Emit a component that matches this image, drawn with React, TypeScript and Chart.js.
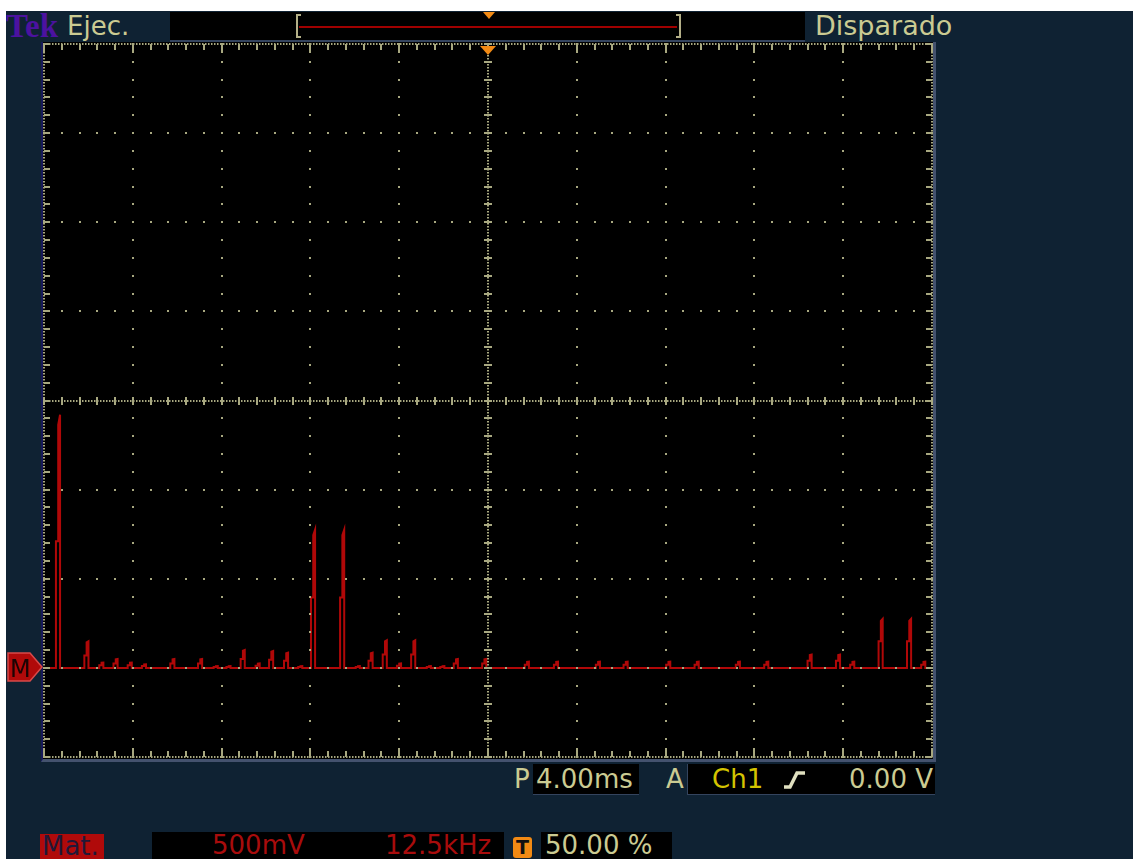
import React, { useEffect, useRef } from 'react';
import { Chart, registerables } from 'chart.js';

Chart.register(...registerables);

// ---- Data (Ch1 math FFT, 500 mV/div, 12.5 kHz/div) ----
const peakFreqKHz = [
  2.0, 6.0, 8.1, 10.1, 12.1, 14.1, 18.1, 22.0, 24.2, 26.0,
  28.0, 30.1, 32.0, 34.1, 36.1, 37.9, 42.0, 44.2, 46.0, 48.0,
  50.0, 52.0, 54.2, 56.1, 58.0, 62.0, 68.0, 72.1, 78.0, 81.9,
  87.9, 91.9, 97.7, 101.7, 107.8, 111.8, 113.8, 117.8, 121.8, 123.8,
];
const peakAmpV = [
  1.42, 0.15, 0.03, 0.05, 0.03, 0.02, 0.05, 0.05, 0.01, 0.01,
  0.1, 0.025, 0.095, 0.085, 0.01, 0.775, 0.775, 0.01, 0.085, 0.155,
  0.025, 0.155, 0.01, 0.01, 0.05, 0.05, 0.035, 0.035, 0.035, 0.035,
  0.035, 0.035, 0.035, 0.035, 0.075, 0.075, 0.035, 0.275, 0.275, 0.035,
];
const peakStepV = [
  0.71, 0.07, 0.015, 0.025, 0.015, 0.01, 0.025, 0.025, 0.005, 0.005,
  0.05, 0.012, 0.045, 0.04, 0.005, 0.395, 0.395, 0.005, 0.04, 0.075,
  0.012, 0.075, 0.005, 0.005, 0.025, 0.025, 0.018, 0.018, 0.018, 0.018,
  0.018, 0.018, 0.018, 0.018, 0.04, 0.04, 0.018, 0.15, 0.15, 0.018,
];

const X_MIN = 0;
const X_MAX = 125;
const X_DIV = 12.5; // kHz per division
const Y_MIN = -0.5;
const Y_MAX = 3.5;
const Y_DIV = 0.5; // V per division

const TRACE = '#b00808';
const GRID = 'rgb(168,168,128)';
const KHAKI = '#cbcb92';
const NAVY = '#0f2233';
const ORANGE = '#f28a14';

function buildTrace() {
  const pts: { x: number; y: number }[] = [{ x: X_MIN, y: 0 }];
  peakFreqKHz.forEach((f, i) => {
    const a = peakAmpV[i];
    const s = peakStepV[i];
    pts.push(
      { x: f - 0.32, y: 0 },
      { x: f - 0.32, y: s },
      { x: f, y: s },
      { x: f, y: a * 0.96 },
      { x: f + 0.26, y: a },
      { x: f + 0.26, y: 0 },
    );
  });
  pts.push({ x: X_MAX, y: 0 });
  return pts;
}

const graticule = {
  id: 'graticule',
  afterDatasetsDraw(chart: any) {
    const ctx = chart.ctx as CanvasRenderingContext2D;
    const xs = chart.scales.x;
    const ys = chart.scales.y;
    const L = xs.getPixelForValue(X_MIN);
    const R = xs.getPixelForValue(X_MAX);
    const T = ys.getPixelForValue(Y_MAX);
    const B = ys.getPixelForValue(Y_MIN);
    const nx = Math.round((X_MAX - X_MIN) / X_DIV);
    const ny = Math.round((Y_MAX - Y_MIN) / Y_DIV);
    const dx = (R - L) / nx;
    const dy = (B - T) / ny;
    const cx = L + (dx * nx) / 2;
    const cy = T + (dy * ny) / 2;
    ctx.save();
    ctx.fillStyle = GRID;
    const dot = (x: number, y: number, w = 2, h = 2) =>
      ctx.fillRect(Math.round(x - w / 2), Math.round(y - h / 2), w, h);

    // interior grid lines: a dot each 1/5 division
    for (let i = 1; i < nx; i++) {
      if (i * 2 === nx) continue;
      const x = L + i * dx;
      for (let k = 0; k <= ny * 5; k++) dot(x, T + (k * dy) / 5);
    }
    for (let j = 1; j < ny; j++) {
      if (j * 2 === ny) continue;
      const y = T + j * dy;
      for (let k = 0; k <= nx * 5; k++) dot(L + (k * dx) / 5, y);
    }
    // centre lines: dense dots with crosses every 1/5 division
    for (let y = T; y <= B; y += 3) dot(cx, y, 2, 1.5);
    for (let x = L; x <= R; x += 3) dot(x, cy, 1.5, 2);
    for (let k = 0; k <= ny * 5; k++) dot(cx, T + (k * dy) / 5, 8, 2);
    for (let k = 0; k <= nx * 5; k++) dot(L + (k * dx) / 5, cy, 2, 8);
    // border: dense dots with inward ticks
    for (let y = T; y <= B; y += 3) {
      dot(L, y, 2, 1.5);
      dot(R, y, 2, 1.5);
    }
    for (let x = L; x <= R; x += 3) {
      dot(x, T, 1.5, 2);
      dot(x, B, 1.5, 2);
    }
    for (let k = 0; k <= ny * 5; k++) {
      const y = T + (k * dy) / 5;
      ctx.fillRect(Math.round(L), Math.round(y - 1), 6, 2);
      ctx.fillRect(Math.round(R - 6), Math.round(y - 1), 6, 2);
    }
    for (let k = 0; k <= nx * 5; k++) {
      const x = L + (k * dx) / 5;
      const len = k % 5 === 0 ? 9 : 6;
      ctx.fillRect(Math.round(x - 1), Math.round(T), 2, len);
      ctx.fillRect(Math.round(x - 1), Math.round(B - len), 2, len);
    }
    // trigger position marker
    ctx.fillStyle = ORANGE;
    ctx.beginPath();
    ctx.moveTo(cx - 8, T + 2);
    ctx.lineTo(cx + 8, T + 2);
    ctx.lineTo(cx, T + 11);
    ctx.closePath();
    ctx.fill();
    ctx.restore();
  },
};

const abs = (l: number, t: number, w: number, h: number, extra: React.CSSProperties = {}): React.CSSProperties => ({
  position: 'absolute',
  left: l,
  top: t,
  width: w,
  height: h,
  ...extra,
});

const textRow = (size: number, h: number, color: string): React.CSSProperties => ({
  fontSize: size,
  lineHeight: `${h}px`,
  color,
  whiteSpace: 'nowrap',
});

export default function App() {
  const ref = useRef<HTMLCanvasElement>(null);

  useEffect(() => {
    const chart = new Chart(ref.current!, {
      type: 'line',
      data: {
        datasets: [
          {
            data: buildTrace(),
            borderColor: TRACE,
            borderWidth: 2,
            pointRadius: 0,
            tension: 0,
            fill: false,
            borderJoinStyle: 'miter',
          },
        ],
      },
      options: {
        animation: false,
        responsive: false,
        parsing: false,
        events: [],
        layout: { padding: 6 },
        plugins: { legend: { display: false }, tooltip: { enabled: false } },
        scales: {
          x: { type: 'linear', min: X_MIN, max: X_MAX, display: false },
          y: { type: 'linear', min: Y_MIN, max: Y_MAX, display: false },
        },
      },
      plugins: [graticule],
    } as any);
    return () => chart.destroy();
  }, []);

  return (
    <div style={{ position: 'relative', width: 1133, height: 859, background: '#fff', overflow: 'hidden', fontFamily: '"DejaVu Sans", sans-serif' }}>
      <style>{'body{margin:0;background:#fff}'}</style>
      <div style={abs(6, 11, 1127, 848, { background: NAVY })} />

      {/* top status bar */}
      <div style={abs(6, 11, 70, 30, { ...textRow(33, 30, '#4c12a0'), fontFamily: '"Liberation Serif", serif', fontWeight: 'bold' })}>Tek</div>
      <div style={abs(67, 11, 100, 30, textRow(26, 30, KHAKI))}>Ejec.</div>
      <div style={abs(170, 12, 635, 30, { background: '#000', borderBottom: '2px solid #34445e', boxSizing: 'border-box' })} />
      <div style={abs(296, 14, 5, 24, { borderLeft: '2px solid #b4b088', borderTop: '2px solid #b4b088', borderBottom: '2px solid #b4b088', boxSizing: 'border-box' })} />
      <div style={abs(676, 14, 5, 24, { borderRight: '2px solid #b4b088', borderTop: '2px solid #b4b088', borderBottom: '2px solid #b4b088', boxSizing: 'border-box' })} />
      <div style={abs(299, 26, 378, 2, { background: '#a00000' })} />
      <svg style={abs(483, 12, 12, 7)} width={12} height={7}>
        <polygon points="0,0 12,0 6,7" fill={ORANGE} />
      </svg>
      <div style={abs(815, 11, 200, 30, textRow(27, 30, KHAKI))}>Disparado</div>

      {/* graticule area */}
      <div style={abs(41, 42, 895, 720, { background: '#000', borderLeft: '2px solid #17195a', borderRight: '3px solid #44526e', borderBottom: '3px solid #44526e', boxSizing: 'border-box' })} />
      <canvas ref={ref} width={900} height={725} style={abs(38, 38, 900, 725)} />

      {/* math reference marker */}
      <svg style={abs(7, 652, 37, 31)} width={37} height={31}>
        <polygon points="1,1 23,1 35,15 23,29 1,29" fill="#b00a0a" stroke="#d84a4a" strokeWidth={1.5} />
        <text x={3} y={25} fontSize={24} fontFamily="DejaVu Sans" fill="#1a0404">M</text>
      </svg>

      {/* horizontal / trigger readout */}
      <div style={abs(514, 764, 20, 31, textRow(26, 31, KHAKI))}>P</div>
      <div style={abs(533, 764, 106, 31, { background: '#000', borderBottom: '1px solid #34445e', boxSizing: 'border-box' })}>
        <span style={{ ...textRow(26, 30, KHAKI), position: 'absolute', left: 3, top: 0 }}>4.00ms</span>
      </div>
      <div style={abs(666, 764, 20, 31, textRow(26, 31, KHAKI))}>A</div>
      <div style={abs(687, 764, 248, 31, { background: '#000', borderBottom: '1px solid #34445e', borderLeft: '1px solid #34445e', boxSizing: 'border-box' })}>
        <span style={{ ...textRow(26, 30, '#d4c400'), position: 'absolute', left: 24, top: 0 }}>Ch1</span>
        <svg style={{ position: 'absolute', left: 95, top: 5 }} width={24} height={22}>
          <path d="M1 18 L7 18 L14 4 L22 4" stroke="#e0e0c0" strokeWidth={3.5} fill="none" />
        </svg>
        <span style={{ ...textRow(26, 30, KHAKI), position: 'absolute', right: 2, top: 0 }}>0.00 V</span>
      </div>

      {/* math readout */}
      <div style={abs(40, 834, 64, 25, { background: '#b00a0a' })}>
        <span style={{ ...textRow(26, 25, '#221838'), position: 'absolute', left: 2, top: 0 }}>Mat.</span>
      </div>
      <div style={abs(152, 832, 352, 27, { background: '#000' })}>
        <span style={{ ...textRow(26, 27, '#a80c0c'), position: 'absolute', left: 60, top: 0 }}>500mV</span>
        <span style={{ ...textRow(26, 27, '#a80c0c'), position: 'absolute', left: 233, top: 0 }}>12.5kHz</span>
      </div>
      <div style={abs(513, 837, 19, 21, { background: ORANGE, borderRadius: 3, textAlign: 'center', ...textRow(19, 21, '#111'), fontWeight: 'bold' })}>T</div>
      <div style={abs(541, 832, 131, 27, { background: '#000' })}>
        <span style={{ ...textRow(26, 27, KHAKI), position: 'absolute', left: 4, top: 0 }}>50.00 %</span>
      </div>
    </div>
  );
}
